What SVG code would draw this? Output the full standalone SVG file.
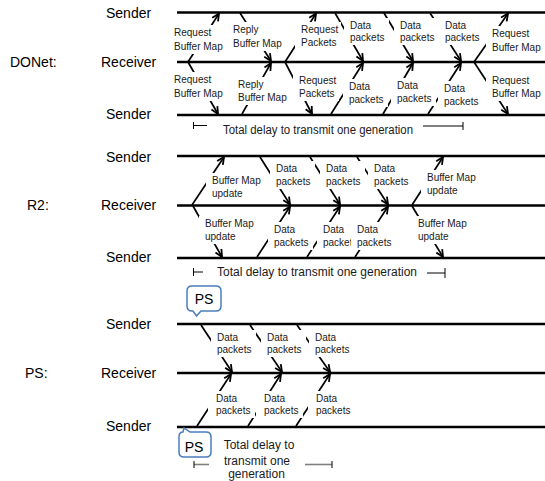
<svg xmlns="http://www.w3.org/2000/svg" width="545" height="481" viewBox="0 0 545 481">
<defs>
<marker id="ah" viewBox="0 0 10 10" refX="9" refY="5" markerWidth="9" markerHeight="9" markerUnits="userSpaceOnUse" orient="auto">
<path d="M1,1.2 L9,5 L1,8.8" fill="none" stroke="#000" stroke-width="2"/>
</marker>
</defs>
<style>
.tl{stroke:#000;stroke-width:2.5;fill:none}
.ar{stroke:#000;stroke-width:1.7;fill:none;marker-end:url(#ah)}
.lb rect{fill:#fff;stroke:none}
.lb text{font-family:"Liberation Sans",Arial,sans-serif;font-size:10px;fill:#1a1a1a}
.big{font-family:"Liberation Sans",Arial,sans-serif;font-size:14px;fill:#000}
.td{font-family:"Liberation Sans",Arial,sans-serif;font-size:12px;fill:#1a1a1a}
.br{stroke:#000;stroke-width:1;fill:none}
.brg{stroke:#808080;stroke-width:1.6;fill:none}
.co{fill:#fff;stroke:#4a7ebb;stroke-width:1.5}
</style>

<g id="side-labels">
<text class="big" x="106" y="18">Sender</text>
<text class="big" x="10" y="67">DONet:</text>
<text class="big" x="101" y="67">Receiver</text>
<text class="big" x="106" y="119">Sender</text>
<text class="big" x="106" y="162">Sender</text>
<text class="big" x="27" y="210">R2:</text>
<text class="big" x="101" y="210">Receiver</text>
<text class="big" x="106" y="262">Sender</text>
<text class="big" x="106" y="329">Sender</text>
<text class="big" x="25" y="378">PS:</text>
<text class="big" x="101" y="378">Receiver</text>
<text class="big" x="106" y="431">Sender</text>
</g>

<g id="timelines">
<line class="tl" x1="177" y1="12.5" x2="545" y2="12.5"/>
<line class="tl" x1="177" y1="62" x2="545" y2="62"/>
<line class="tl" x1="177" y1="115" x2="545" y2="115"/>
<line class="tl" x1="177" y1="156" x2="545" y2="156"/>
<line class="tl" x1="177" y1="205.5" x2="545" y2="205.5"/>
<line class="tl" x1="177" y1="258" x2="545" y2="258"/>
<line class="tl" x1="177" y1="324" x2="545" y2="324"/>
<line class="tl" x1="177" y1="373" x2="545" y2="373"/>
<line class="tl" x1="177" y1="427" x2="545" y2="427"/>
</g>

<g id="connectors">
<line class="ar" x1="188" y1="62" x2="219" y2="13.5"/>
<line class="ar" x1="188" y1="62" x2="218" y2="114"/>
<line class="ar" x1="240" y1="13" x2="271" y2="61"/>
<line class="ar" x1="242" y1="114" x2="271" y2="63"/>
<line class="ar" x1="285" y1="62" x2="316" y2="13.5"/>
<line class="ar" x1="285" y1="62" x2="312" y2="114"/>
<line class="ar" x1="335" y1="13" x2="363" y2="61"/>
<line class="ar" x1="384" y1="13" x2="413" y2="61"/>
<line class="ar" x1="430" y1="13" x2="461" y2="61"/>
<line class="ar" x1="331" y1="114" x2="363" y2="63"/>
<line class="ar" x1="383" y1="114" x2="413" y2="63"/>
<line class="ar" x1="428" y1="114" x2="461" y2="63"/>
<line class="ar" x1="474" y1="62" x2="508" y2="13.5"/>
<line class="ar" x1="474" y1="62" x2="508" y2="114"/>

<line class="ar" x1="192" y1="205" x2="224" y2="157"/>
<line class="ar" x1="193" y1="206" x2="222" y2="257"/>
<line class="ar" x1="260" y1="157" x2="290" y2="204.5"/>
<line class="ar" x1="310" y1="157" x2="340" y2="204.5"/>
<line class="ar" x1="357" y1="157" x2="388" y2="204.5"/>
<line class="ar" x1="412" y1="205" x2="443" y2="157"/>
<line class="ar" x1="412" y1="206" x2="443" y2="257"/>
<line class="ar" x1="257" y1="257" x2="290" y2="206.5"/>
<line class="ar" x1="307" y1="257" x2="340" y2="206.5"/>
<line class="ar" x1="355" y1="257" x2="388" y2="206.5"/>

<line class="ar" x1="201" y1="325" x2="232" y2="372"/>
<line class="ar" x1="250" y1="325" x2="282" y2="372"/>
<line class="ar" x1="297" y1="325" x2="330" y2="372"/>
<line class="ar" x1="197" y1="426" x2="231" y2="374"/>
<line class="ar" x1="248" y1="426" x2="281" y2="374"/>
<line class="ar" x1="296" y1="426" x2="330" y2="374"/>
</g>

<g id="donet-labels">
<g id="L1" class="lb"><rect x="168" y="25" width="59" height="29"/><text x="174" y="36">Request<tspan x="174" y="50">Buffer Map</tspan></text></g>
<g id="L2" class="lb"><rect x="227" y="22" width="59" height="29"/><text x="233" y="33">Reply<tspan x="233" y="47">Buffer Map</tspan></text></g>
<g id="L3" class="lb"><rect x="295" y="22" width="46" height="28"/><text x="301" y="33">Request<tspan x="301" y="46">Packets</tspan></text></g>
<g id="L4" class="lb"><rect x="344" y="18" width="45" height="27"/><text x="350" y="29">Data<tspan x="350" y="41">packets</tspan></text></g>
<g id="L5" class="lb"><rect x="394" y="18" width="45" height="27"/><text x="400" y="29">Data<tspan x="400" y="41">packets</tspan></text></g>
<g id="L6" class="lb"><rect x="439" y="18" width="45" height="27"/><text x="445" y="29">Data<tspan x="445" y="41">packets</tspan></text></g>
<g id="L7" class="lb"><rect x="486" y="26" width="59" height="29"/><text x="492" y="37">Request<tspan x="492" y="51">Buffer Map</tspan></text></g>
<g id="M1" class="lb"><rect x="168" y="72" width="59" height="29"/><text x="174" y="83">Request<tspan x="174" y="97">Buffer Map</tspan></text></g>
<g id="M2" class="lb"><rect x="232" y="77" width="59" height="28"/><text x="238" y="88">Reply<tspan x="238" y="101">Buffer Map</tspan></text></g>
<g id="M3" class="lb"><rect x="293" y="73" width="46" height="28"/><text x="299" y="84">Request<tspan x="299" y="97">Packets</tspan></text></g>
<g id="M4" class="lb"><rect x="343" y="79" width="45" height="28"/><text x="349" y="90">Data<tspan x="349" y="103">packets</tspan></text></g>
<g id="M5" class="lb"><rect x="391" y="78" width="45" height="28"/><text x="397" y="89">Data<tspan x="397" y="102">packets</tspan></text></g>
<g id="M6" class="lb"><rect x="438" y="81" width="45" height="28"/><text x="444" y="92">Data<tspan x="444" y="105">packets</tspan></text></g>
<g id="M7" class="lb"><rect x="486" y="73" width="59" height="28"/><text x="492" y="84">Request<tspan x="492" y="97">Buffer Map</tspan></text></g>
</g>

<g id="r2-labels">
<g id="N1" class="lb"><rect x="206" y="173" width="59" height="28"/><text x="212" y="184">Buffer Map<tspan x="212" y="197">update</tspan></text></g>
<g id="N2" class="lb"><rect x="270" y="161" width="45" height="28"/><text x="276" y="172">Data<tspan x="276" y="185">packets</tspan></text></g>
<g id="N3" class="lb"><rect x="320" y="161" width="45" height="28"/><text x="326" y="172">Data<tspan x="326" y="185">packets</tspan></text></g>
<g id="N4" class="lb"><rect x="368" y="161" width="45" height="28"/><text x="374" y="172">Data<tspan x="374" y="185">packets</tspan></text></g>
<g id="N5" class="lb"><rect x="421" y="170" width="59" height="28"/><text x="427" y="181">Buffer Map<tspan x="427" y="194">update</tspan></text></g>
<g id="O1" class="lb"><rect x="199" y="216" width="59" height="28"/><text x="205" y="227">Buffer Map<tspan x="205" y="240">update</tspan></text></g>
<g id="O2" class="lb"><rect x="268" y="222" width="45" height="28"/><text x="274" y="233">Data<tspan x="274" y="246">packets</tspan></text></g>
<g id="O3" class="lb"><rect x="317" y="222" width="45" height="28"/><text x="323" y="233">Data<tspan x="323" y="246">packets</tspan></text></g>
<g id="O4" class="lb"><rect x="351" y="222" width="45" height="28"/><text x="357" y="233">Data<tspan x="357" y="246">packets</tspan></text></g>
<g id="O5" class="lb"><rect x="412" y="216" width="59" height="28"/><text x="418" y="227">Buffer Map<tspan x="418" y="240">update</tspan></text></g>
</g>

<g id="ps-labels">
<g id="P1" class="lb"><rect x="211" y="330" width="45" height="27"/><text x="217" y="341">Data<tspan x="217" y="353">packets</tspan></text></g>
<g id="P2" class="lb"><rect x="261" y="330" width="45" height="27"/><text x="267" y="341">Data<tspan x="267" y="353">packets</tspan></text></g>
<g id="P3" class="lb"><rect x="309" y="330" width="45" height="27"/><text x="315" y="341">Data<tspan x="315" y="353">packets</tspan></text></g>
<g id="Q1" class="lb"><rect x="208" y="391" width="47" height="27"/><text x="216" y="402">Data<tspan x="216" y="414">packets</tspan></text></g>
<g id="Q2" class="lb"><rect x="256" y="391" width="47" height="27"/><text x="264" y="402">Data<tspan x="264" y="414">packets</tspan></text></g>
<g id="Q3" class="lb"><rect x="308" y="391" width="47" height="27"/><text x="316" y="402">Data<tspan x="316" y="414">packets</tspan></text></g>
</g>

<g id="delay-donet">
<path class="br" d="M193.5,122 V129 M193.5,125.5 H207"/>
<path class="br" d="M423,126 H463 M463,122 V130"/>
<text class="td" x="223" y="134" textLength="190" lengthAdjust="spacingAndGlyphs">Total delay to transmit one generation</text>
</g>
<g id="delay-r2">
<path class="br" d="M193.5,268 V276 M193.5,272 H203"/>
<path class="br" d="M427,273 H445 M445,268 V278"/>
<text class="td" x="217" y="276" textLength="200" lengthAdjust="spacingAndGlyphs">Total delay to transmit one generation</text>
</g>
<g id="delay-ps">
<path class="brg" d="M194,464.5 H209"/>
<path class="br" d="M194,461 V468"/>
<path class="brg" d="M305,464.5 H332"/>
<path class="br" d="M332,461 V468"/>
<text class="td" text-anchor="middle" x="259" y="449">Total delay to</text>
<text class="td" text-anchor="middle" x="257" y="465">transmit one</text>
<text class="td" text-anchor="middle" x="256.5" y="478">generation</text>
</g>

<g id="ps-callout-top">
<path class="co" d="M192,286 H216 Q221,286 221,291 V306 Q221,311 216,311 H201 L196.5,316 L193,311 H192 Q187,311 187,306 V291 Q187,286 192,286 Z"/>
<text class="big" text-anchor="middle" x="204" y="304">PS</text>
</g>
<g id="ps-callout-bottom">
<path class="co" d="M190,432 H206 Q211,432 211,437 V452 Q211,457 206,457 H184 Q179,457 179,452 V437 Q179,432 183,432 L184,428 Z"/>
<text class="big" text-anchor="middle" x="194" y="452">PS</text>
</g>
</svg>
